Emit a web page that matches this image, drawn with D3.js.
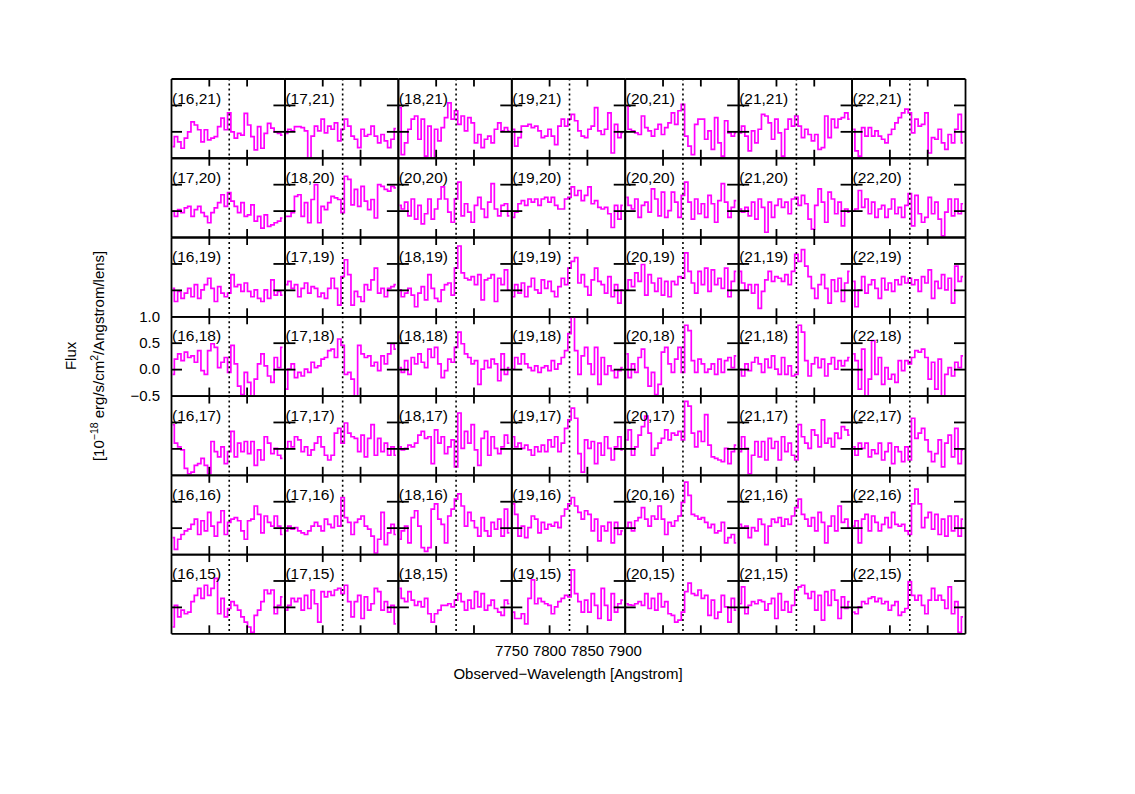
<!DOCTYPE html>
<html>
<head>
<meta charset="utf-8">
<script src="https://cdn.jsdelivr.net/npm/d3@7"></script>
<style>
  body { margin: 0; background: #fff; }
  svg text { font-family: "Liberation Sans", Arial, Helvetica, sans-serif; fill: #000; }
</style>
</head>
<body>
<svg id="chart" width="1135" height="794"></svg>
<script>
// bin centres of the spectra (Angstrom)
const wavelengths = [7752.2, 7756.6, 7761.0, 7765.4, 7769.8, 7774.2, 7778.6, 7783.0, 7787.4, 7791.8,
    7796.2, 7800.6, 7805.0, 7809.4, 7813.8, 7818.2, 7822.6, 7827.0, 7831.4, 7835.8,
    7840.2, 7844.6, 7849.0, 7853.4, 7857.8, 7862.2, 7866.6, 7871.0, 7875.4, 7879.8,
    7884.2, 7888.6, 7893.0, 7897.4];
const lineCenter = 7827;
const xTicks = [7750, 7800, 7850, 7900];
const yTicks = [-0.5, 0.0, 0.5, 1.0];

const panelLabels = [
    ["(16,21)", "(17,21)", "(18,21)", "(19,21)", "(20,21)", "(21,21)", "(22,21)"],
    ["(17,20)", "(18,20)", "(20,20)", "(19,20)", "(20,20)", "(21,20)", "(22,20)"],
    ["(16,19)", "(17,19)", "(18,19)", "(19,19)", "(20,19)", "(21,19)", "(22,19)"],
    ["(16,18)", "(17,18)", "(18,18)", "(19,18)", "(20,18)", "(21,18)", "(22,18)"],
    ["(16,17)", "(17,17)", "(18,17)", "(19,17)", "(20,17)", "(21,17)", "(22,17)"],
    ["(16,16)", "(17,16)", "(18,16)", "(19,16)", "(20,16)", "(21,16)", "(22,16)"],
    ["(16,15)", "(17,15)", "(18,15)", "(19,15)", "(20,15)", "(21,15)", "(22,15)"]
];

// flux, 10^-18 erg/s/cm2/A/lens, one row of panels per array
const fluxRow21 = [
    [-0.29,-0.10,-0.20,-0.32,-0.13,-0.01,0.18,0.12,0.03,-0.20,0.03,-0.16,-0.13,-0.10,0.09,0.25,0.03,0.35,-0.01,-0.13,-0.04,-0.07,0.34,0.12,-0.10,-0.35,0.09,-0.32,-0.04,0.15,0.06,-0.01,-0.04,-0.07],
    [-0.04,0.04,0.01,0.09,0.09,0.07,0.01,-0.60,-0.09,0.10,0.01,0.23,-0.03,0.10,0.04,0.16,-0.18,0.04,0.23,0.10,-0.09,-0.15,-0.31,0.04,-0.09,-0.06,0.10,-0.09,-0.22,-0.06,-0.18,-0.31,-0.15,0.05],
    [0.45,-0.44,-0.22,0.04,0.23,0.29,-0.15,0.23,-0.47,0.10,-0.55,0.04,-0.18,0.07,0.26,0.54,0.23,0.39,0.13,0.29,0.01,0.26,0.16,-0.22,-0.06,-0.31,-0.15,-0.09,-0.22,0.04,0.16,0.01,0.07,0.01],
    [0.04,-0.28,-0.12,0.10,0.10,0.13,0.07,0.10,0.01,-0.12,-0.09,0.04,-0.09,-0.25,0.10,0.23,0.10,0.23,0.32,0.20,0.01,-0.09,-0.12,0.04,0.10,0.45,0.01,-0.06,0.04,0.35,-0.41,0.13,-0.12,-0.03],
    [0.48,0.04,0.01,-0.03,-0.06,0.29,0.07,0.01,-0.09,0.04,0.13,-0.06,0.07,0.16,0.35,0.13,0.39,0.51,-0.09,-0.28,-0.44,0.13,0.23,0.23,-0.15,0.01,-0.34,0.26,-0.22,-0.47,0.20,-0.03,-0.09,-0.03],
    [-0.03,0.10,-0.09,-0.37,0.01,-0.22,0.04,0.32,0.29,0.16,-0.15,0.23,-0.03,-0.47,0.04,0.23,0.10,0.29,0.10,-0.12,0.04,-0.06,-0.18,-0.06,-0.34,-0.31,0.29,-0.12,0.23,0.07,0.23,0.26,0.35,0.23],
    [0.04,-0.37,-0.47,0.07,-0.09,0.07,-0.09,0.01,-0.09,-0.15,-0.22,-0.06,0.04,0.16,0.26,0.35,0.42,0.35,-0.03,0.23,0.10,0.13,0.35,-0.41,-0.12,-0.15,0.04,-0.22,-0.34,-0.06,-0.22,0.04,0.32,-0.22]
];
const fluxRow20 = [
    [-0.01,-0.11,0.02,-0.04,0.05,0.08,-0.11,0.02,0.08,-0.04,-0.11,-0.23,-0.04,0.05,0.15,0.30,0.08,0.34,0.18,0.08,-0.04,0.15,-0.11,-0.08,0.11,-0.20,-0.11,-0.33,-0.08,-0.30,-0.27,-0.23,-0.20,-0.14],
    [-0.11,-0.11,-0.04,0.27,0.30,-0.11,0.15,-0.23,0.21,0.49,-0.23,0.08,0.02,0.15,0.27,0.24,0.21,-0.04,0.65,0.59,0.11,0.40,0.08,0.46,0.18,0.02,0.21,-0.14,0.49,0.46,0.40,0.37,0.46,0.43],
    [0.10,0.03,0.16,-0.10,0.22,-0.16,0.10,-0.25,-0.06,0.22,-0.16,0.03,0.22,0.45,0.22,-0.03,-0.22,0.22,0.54,-0.10,0.13,-0.03,-0.22,0.10,0.25,0.03,-0.13,0.16,0.51,0.03,-0.10,0.10,0.13,-0.10],
    [-0.13,-0.03,0.13,0.19,0.10,0.22,0.16,0.22,0.10,0.22,0.25,0.16,0.25,0.10,0.03,0.03,0.22,0.25,0.45,0.29,0.38,0.19,0.29,0.45,0.13,0.19,0.06,0.03,0.06,-0.06,-0.32,0.10,-0.16,0.10],
    [0.25,0.10,0.03,0.22,-0.13,0.10,0.16,-0.03,0.41,0.22,-0.10,0.35,-0.13,0.00,0.35,0.16,-0.13,0.29,0.54,0.16,-0.16,0.22,-0.06,0.13,-0.13,0.29,0.13,-0.22,0.19,0.51,0.16,-0.13,0.06,0.19],
    [0.03,-0.03,0.06,-0.10,0.16,-0.16,0.22,0.06,-0.41,0.16,-0.13,0.10,0.22,0.06,0.16,-0.06,0.22,0.25,0.10,0.29,0.13,-0.16,-0.35,0.10,0.41,0.16,-0.22,0.35,0.22,-0.06,0.16,-0.29,0.03,-0.03],
    [0.00,0.03,0.38,0.06,0.22,-0.06,0.16,-0.13,0.03,0.10,-0.13,0.03,0.22,-0.06,0.06,-0.13,0.10,0.32,-0.29,0.29,-0.06,-0.22,-0.13,0.25,-0.06,0.16,-0.16,-0.48,-0.03,0.22,-0.10,0.22,-0.06,0.13]
];
const fluxRow19 = [
    [0.03,-0.22,-0.03,-0.16,-0.06,0.03,-0.13,0.10,-0.16,0.00,0.10,0.22,0.03,-0.22,0.06,-0.06,-0.13,-0.06,0.29,0.06,0.10,-0.03,0.13,-0.03,-0.13,0.00,-0.16,-0.22,0.00,-0.16,0.19,-0.10,-0.03,-0.10],
    [0.10,0.16,0.03,0.10,-0.13,0.03,0.13,-0.06,0.06,0.03,-0.13,-0.06,-0.16,0.03,0.22,0.03,-0.29,0.25,0.57,0.29,-0.29,-0.03,-0.13,-0.22,0.10,0.00,0.19,0.41,-0.06,0.03,-0.13,0.03,0.06,0.10],
    [0.00,-0.13,-0.06,0.03,-0.10,-0.32,-0.06,0.06,-0.19,0.29,0.03,-0.16,-0.22,0.00,0.10,0.13,-0.10,0.41,0.83,0.32,0.22,0.19,0.25,0.10,0.29,-0.19,0.19,0.22,0.29,-0.22,0.22,0.10,0.38,0.00],
    [-0.13,0.10,-0.06,0.13,-0.13,0.06,0.22,0.00,-0.06,0.19,0.03,0.16,-0.03,-0.13,0.06,0.22,0.10,0.41,0.54,0.61,0.13,0.29,0.06,-0.10,0.19,0.41,0.16,0.10,-0.06,0.25,-0.13,0.10,-0.25,0.00],
    [0.00,0.19,0.06,0.32,0.16,0.48,-0.10,0.29,0.13,-0.03,0.22,-0.10,0.16,-0.13,0.16,0.10,0.25,0.22,0.70,0.35,0.13,-0.06,0.35,0.10,0.41,-0.03,0.38,0.10,0.22,0.03,0.41,-0.13,0.16,0.35],
    [0.35,0.13,0.00,0.10,-0.06,0.10,-0.35,-0.03,0.19,0.35,0.16,0.25,0.22,0.16,0.29,0.10,0.35,0.67,0.54,0.76,0.45,0.25,0.03,-0.16,0.10,0.29,0.03,-0.25,0.19,-0.03,0.22,-0.22,0.13,0.35],
    [0.16,-0.32,0.00,0.25,-0.06,0.10,0.19,0.03,-0.16,0.22,0.00,0.13,-0.03,0.19,0.10,0.25,0.13,0.22,0.10,0.19,-0.03,0.25,0.13,0.38,-0.16,0.16,0.03,0.29,0.00,0.22,-0.25,0.45,0.16,0.25]
];
const fluxRow18 = [
    [-0.10,0.19,0.29,0.16,0.32,0.22,0.25,0.13,0.35,-0.03,-0.10,0.35,0.48,0.41,0.03,0.13,0.22,-0.06,0.45,0.10,-0.32,-0.48,-0.06,-0.25,-0.55,-0.19,0.10,0.29,0.06,-0.13,-0.25,0.22,0.03,0.41],
    [-0.38,0.00,0.10,-0.16,-0.06,-0.13,0.00,-0.06,0.13,0.03,0.06,0.19,0.22,0.35,0.38,0.22,0.57,0.45,-0.10,-0.06,-0.19,-0.55,0.45,0.29,0.22,0.25,0.06,0.13,-0.03,0.25,0.10,0.29,0.48,0.38],
    [0.03,-0.06,0.16,-0.10,0.22,0.10,0.29,0.13,0.03,0.38,0.22,0.41,0.10,-0.16,-0.03,0.19,0.13,0.41,0.70,0.48,0.29,0.22,0.10,0.16,-0.29,0.00,0.16,0.03,0.19,0.10,-0.22,0.29,-0.10,0.03],
    [0.00,0.22,0.10,0.29,0.10,0.03,-0.03,0.06,-0.06,0.03,0.06,-0.03,0.16,0.00,0.10,0.22,0.35,0.67,1.02,0.35,-0.10,0.25,0.41,0.10,-0.10,0.41,-0.29,0.22,-0.10,0.06,-0.03,-0.16,-0.03,0.03],
    [0.29,-0.16,0.10,-0.06,0.22,0.38,0.03,-0.32,-0.06,-0.48,-0.29,0.32,0.41,0.10,-0.06,0.19,0.41,-0.06,0.83,0.73,0.16,-0.06,0.19,0.10,-0.06,0.00,0.10,-0.10,0.19,-0.06,0.16,0.22,0.03,0.25],
    [0.00,-0.13,0.10,-0.03,0.13,0.22,0.10,-0.06,0.19,0.03,0.25,0.00,-0.10,0.22,-0.10,0.06,-0.13,-0.10,0.83,0.70,0.16,-0.13,0.10,0.22,0.03,0.19,-0.13,0.10,0.22,0.00,0.16,0.06,0.16,0.22],
    [0.29,0.16,-0.38,0.38,-0.55,-0.19,0.54,-0.10,0.22,-0.29,0.03,-0.19,-0.10,-0.25,0.16,-0.03,0.16,0.10,0.22,0.35,0.32,0.38,0.22,-0.19,0.13,-0.38,0.19,-0.55,-0.10,0.03,-0.13,0.13,0.03,0.25]
];
const fluxRow17 = [
    [0.45,0.10,0.03,-0.03,-0.38,-0.48,-0.45,-0.32,-0.29,-0.19,-0.32,-0.48,0.13,-0.06,-0.16,0.03,-0.29,-0.06,0.32,-0.16,0.10,-0.06,0.13,-0.10,0.13,-0.32,-0.03,-0.22,0.22,0.10,-0.10,0.00,-0.13,-0.19],
    [0.00,0.13,0.03,0.22,0.16,-0.06,0.03,-0.13,-0.03,0.10,0.22,0.03,-0.13,-0.22,-0.13,0.29,0.38,0.10,0.48,0.29,0.22,0.19,-0.06,0.25,-0.16,0.19,0.45,-0.13,0.19,-0.06,0.10,-0.13,0.03,-0.13],
    [0.03,-0.03,0.00,0.06,0.03,0.10,0.25,0.32,0.19,0.22,-0.29,0.35,0.10,0.22,-0.10,0.03,0.16,-0.35,0.67,0.00,0.32,0.10,0.45,-0.03,-0.32,0.19,0.32,-0.13,0.22,0.00,-0.10,0.03,0.25,0.10],
    [0.22,0.03,0.10,0.00,0.06,-0.03,-0.13,0.03,-0.06,0.06,-0.06,0.16,0.03,0.22,-0.06,0.10,0.38,0.54,0.76,0.57,-0.10,-0.45,0.16,0.00,0.13,-0.29,0.10,-0.13,0.22,0.00,-0.22,0.03,0.22,-0.03],
    [0.16,0.35,-0.13,0.03,0.25,0.41,0.61,0.29,-0.13,0.00,0.10,0.19,0.35,0.16,0.29,0.25,0.32,0.16,0.89,0.80,0.29,0.03,0.32,0.13,0.64,0.06,-0.16,-0.19,-0.22,-0.25,0.00,-0.29,-0.06,0.06],
    [-0.06,0.22,0.00,-0.48,-0.13,0.13,-0.16,0.13,-0.22,0.19,0.00,0.13,-0.22,0.22,-0.06,0.10,-0.13,-0.22,0.45,0.22,0.10,0.00,0.35,0.25,0.03,0.54,0.10,0.19,0.03,0.29,0.19,0.41,0.35,0.25],
    [0.03,-0.13,0.10,0.00,0.10,-0.16,-0.03,-0.10,0.10,-0.22,-0.06,0.10,-0.29,0.03,-0.06,-0.25,0.03,-0.22,0.57,0.19,0.29,0.38,0.16,-0.06,-0.25,-0.10,0.16,-0.35,0.10,0.25,-0.16,0.38,-0.29,-0.03]
];
const fluxRow16 = [
    [-0.19,-0.41,-0.22,-0.13,-0.06,-0.03,0.06,0.16,-0.13,0.13,-0.06,0.29,0.03,-0.16,0.10,0.32,-0.13,0.10,0.16,0.19,0.13,-0.06,-0.22,0.13,0.16,0.41,0.25,-0.10,0.22,0.10,0.03,0.22,0.03,-0.13],
    [-0.06,0.03,-0.03,0.00,-0.06,-0.10,-0.13,-0.06,0.03,0.10,0.03,-0.06,0.16,0.06,0.00,0.22,0.03,0.57,0.19,0.10,-0.13,0.10,0.16,0.22,0.03,-0.03,-0.16,-0.48,-0.22,0.29,-0.32,-0.10,0.06,-0.13],
    [-0.22,-0.06,0.03,-0.29,0.19,0.32,0.03,-0.38,-0.45,-0.38,0.35,0.45,0.16,0.06,-0.29,0.22,0.35,0.54,0.64,0.41,0.03,0.29,0.13,0.00,-0.16,0.19,-0.06,-0.16,0.10,-0.03,0.16,-0.16,0.35,-0.10],
    [0.45,0.25,-0.16,0.03,-0.19,0.00,0.22,0.16,-0.10,0.10,-0.03,0.06,0.03,0.10,0.00,0.22,0.35,0.45,0.57,0.41,0.29,0.16,0.32,0.25,-0.06,0.16,-0.25,0.03,-0.06,0.10,-0.29,0.10,-0.13,-0.06],
    [0.00,0.10,-0.06,0.13,0.19,0.38,0.16,0.03,0.22,0.16,0.41,0.16,-0.13,0.10,0.03,0.13,0.22,0.48,0.86,0.61,0.25,0.22,0.16,0.19,0.10,0.00,0.06,-0.10,-0.06,0.10,-0.29,-0.19,-0.13,-0.29],
    [0.06,0.00,0.03,-0.19,0.00,-0.06,0.16,0.06,-0.32,0.03,0.16,0.10,0.19,0.03,0.16,0.06,0.22,0.38,0.54,0.25,0.16,0.03,0.19,-0.06,0.29,0.10,-0.29,0.03,0.22,-0.06,0.41,0.10,0.16,0.00],
    [0.03,0.13,-0.29,0.16,0.25,-0.06,0.22,0.10,-0.06,0.06,0.19,0.00,0.29,0.06,0.03,0.06,-0.06,-0.13,0.45,0.73,0.45,0.00,0.19,0.29,-0.03,0.25,-0.13,0.16,-0.16,0.22,-0.06,0.22,-0.16,0.16]
];
const fluxRow15 = [
    [-0.38,0.03,-0.19,-0.06,-0.13,-0.10,0.10,0.22,0.35,0.16,0.41,0.22,0.35,0.54,-0.13,0.16,-0.19,-0.03,0.10,0.03,-0.06,-0.19,-0.29,-0.38,-0.48,-0.16,-0.06,0.10,0.32,0.25,0.32,-0.13,0.03,0.19],
    [-0.06,0.03,0.16,0.10,0.16,-0.06,0.22,-0.03,0.32,0.06,-0.29,0.29,0.19,0.29,0.22,0.32,0.35,0.25,0.41,0.10,-0.19,0.10,0.22,-0.22,0.19,-0.06,0.06,0.35,0.29,-0.06,0.10,-0.10,0.03,-0.32],
    [0.35,0.16,0.10,0.29,0.13,0.03,0.10,0.00,0.16,-0.13,-0.29,-0.13,-0.06,0.03,0.03,0.06,0.00,0.13,0.25,0.10,-0.06,0.13,-0.03,0.29,0.00,0.25,-0.06,0.03,0.13,-0.03,-0.10,-0.16,0.13,0.06],
    [-0.10,-0.22,-0.22,-0.13,-0.32,0.16,0.51,0.06,0.16,0.10,0.06,0.03,-0.13,0.00,0.10,0.16,0.22,0.19,0.70,0.25,0.10,-0.10,0.13,-0.10,0.25,0.03,-0.22,0.35,0.03,-0.25,0.25,-0.10,0.06,0.13],
    [0.06,0.04,0.03,0.06,0.10,0.03,0.25,-0.03,0.16,-0.06,0.25,0.00,0.10,-0.13,-0.16,-0.29,-0.25,-0.10,0.29,0.45,0.25,0.22,0.32,0.16,0.22,-0.16,0.13,-0.22,-0.10,0.22,0.00,-0.29,0.16,-0.06],
    [0.06,0.38,-0.13,0.03,0.10,0.06,0.13,0.10,-0.06,0.06,0.16,-0.22,0.25,-0.06,0.10,-0.10,0.03,0.32,0.38,0.41,0.25,0.16,0.29,-0.06,0.22,-0.25,0.29,0.03,0.32,0.13,-0.22,0.19,-0.03,0.10],
    [-0.10,-0.13,0.00,0.10,0.06,0.16,0.19,0.10,0.16,0.06,0.10,-0.06,0.03,0.10,-0.16,-0.10,-0.03,0.48,0.22,0.13,0.22,0.03,-0.13,0.13,0.35,0.13,0.22,0.13,-0.03,0.38,-0.13,0.10,-0.48,-0.19]
];
const fluxRows = [fluxRow21, fluxRow20, fluxRow19, fluxRow18, fluxRow17, fluxRow16, fluxRow15];

// layout of the 7x7 grid
const gridLeft = 171, gridTop = 78.5;
const panelW = 113.43, panelH = 79.26;
const yLabelPanel = [3, 0];   // row, col that carries the flux tick labels
const xLabelPanel = [6, 3];   // row, col that carries the wavelength tick labels

const svg = d3.select("#chart");

let x = d3.scaleLinear()
    .domain([xTicks[0], xTicks[xTicks.length - 1]])
    .range([0, panelW]);
let y = d3.scaleLinear()
    .domain([yTicks[0], yTicks[yTicks.length - 1]])
    .range([panelH, 0]);

let spectrum = d3.line()
    .x(function(d, i) { return x(wavelengths[i]); })
    .y(function(d) { return y(d); })
    .curve(d3.curveStep);

// inward pointing ticks, the axis domains make the panel frame
function frame(g, axis, transform) {
    let a = g.append("g").attr("transform", transform).call(axis);
    a.selectAll("text").remove();
    a.selectAll("path, line").attr("stroke", "#000").attr("stroke-width", 1.8);
}

fluxRows.forEach(function(row, r) {
    row.forEach(function(flux, c) {
        let g = svg.append("g")
            .attr("transform", "translate(" + (gridLeft + c * panelW) + "," + (gridTop + r * panelH) + ")");

        let clipId = "clip-" + r + "-" + c;
        g.append("clipPath").attr("id", clipId)
            .append("rect").attr("width", panelW).attr("height", panelH);

        g.append("path")
            .datum(flux)
            .attr("d", spectrum)
            .attr("fill", "none")
            .attr("stroke", "#ff00ff")
            .attr("stroke-width", 1.7)
            .attr("clip-path", "url(#" + clipId + ")");

        g.append("line")
            .attr("x1", x(lineCenter)).attr("x2", x(lineCenter))
            .attr("y1", 0).attr("y2", panelH)
            .attr("stroke", "#000")
            .attr("stroke-width", 1.6)
            .attr("stroke-dasharray", "2,3");

        let innerX = xTicks.slice(1, -1), innerY = yTicks.slice(1, -1);
        frame(g, d3.axisTop(x).tickValues(innerX).tickSizeInner(-8).tickSizeOuter(0), "translate(0,0)");
        frame(g, d3.axisBottom(x).tickValues(innerX).tickSizeInner(-8).tickSizeOuter(0), "translate(0," + panelH + ")");
        frame(g, d3.axisLeft(y).tickValues(innerY).tickSizeInner(-11).tickSizeOuter(0), "translate(0,0)");
        frame(g, d3.axisRight(y).tickValues(innerY).tickSizeInner(-11).tickSizeOuter(0), "translate(" + panelW + ",0)");

        if (r == yLabelPanel[0] && c == yLabelPanel[1]) {
            let ya = g.append("g")
                .call(d3.axisLeft(y).tickValues(yTicks).tickSize(0).tickPadding(11).tickFormat(d3.format(".1f")));
            ya.select(".domain").remove();
            ya.selectAll("text").attr("font-size", "15px").attr("font-family", null).attr("fill", "#000");
        }
        if (r == xLabelPanel[0] && c == xLabelPanel[1]) {
            let xa = g.append("g")
                .attr("transform", "translate(0," + panelH + ")")
                .call(d3.axisBottom(x).tickValues(xTicks).tickSize(0).tickPadding(12).tickFormat(d3.format("d")));
            xa.select(".domain").remove();
            xa.selectAll("text").attr("font-size", "15px").attr("font-family", null).attr("fill", "#000");
        }

        g.append("text")
            .attr("x", 1)
            .attr("y", 25)
            .attr("font-size", "15.5px")
            .text(panelLabels[r][c]);
    });
});

let gridMidX = gridLeft + 3.5 * panelW;
let gridMidY = gridTop + 3.5 * panelH;

svg.append("text")
    .attr("x", gridMidX)
    .attr("y", 679)
    .attr("text-anchor", "middle")
    .attr("font-size", "15px")
    .text("Observed\u2212Wavelength [Angstrom]");

svg.append("text")
    .attr("transform", "translate(76," + gridMidY + ") rotate(-90)")
    .attr("text-anchor", "middle")
    .attr("font-size", "15px")
    .text("Flux");

let unit = svg.append("text")
    .attr("transform", "translate(104," + gridMidY + ") rotate(-90)")
    .attr("text-anchor", "middle")
    .attr("font-size", "15px");
unit.append("tspan").text("[10");
unit.append("tspan").attr("dy", -6).attr("font-size", "10.5px").text("\u221218");
unit.append("tspan").attr("dy", 6).text(" erg/s/cm");
unit.append("tspan").attr("dy", -6).attr("font-size", "10.5px").text("2");
unit.append("tspan").attr("dy", 6).text("/Angstrom/lens]");
</script>
</body>
</html>
